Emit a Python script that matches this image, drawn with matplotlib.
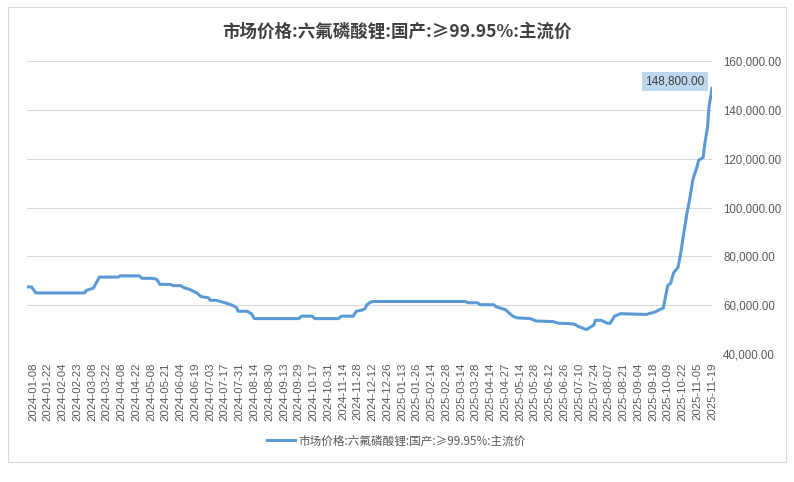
import matplotlib
matplotlib.use('Agg')
import matplotlib.pyplot as plt
from matplotlib.patches import Rectangle
from matplotlib.ticker import FuncFormatter

plt.rcParams['font.family'] = ['Noto Sans CJK SC', 'DejaVu Sans']

title = '市场价格:六氟磷酸锂:国产:≥99.95%:主流价'

# trading-day index and price (yuan/ton)
day_idx = [0, 3, 6, 39, 40, 45, 49, 62, 63, 76, 78, 85, 88, 90, 97, 99, 104, 107, 110,
           115, 118, 123, 124, 128, 131, 134, 139, 142, 143, 149, 152, 154, 184, 186,
           193, 195, 211, 213, 221, 223, 227, 229, 230, 232, 234, 297, 299, 305, 307,
           316, 318, 324, 329, 332, 341, 345, 356, 360, 366, 371, 373, 379, 384, 385,
           389, 393, 395, 398, 402, 420, 421, 425, 429, 431, 434, 436, 438, 441, 443,
           445, 447, 449, 451, 454, 455, 458, 459, 461, 462, 464]
price = [67500, 67500, 65000, 65000, 66000, 67000, 71500, 71500, 72000, 72000, 71000,
         71000, 70500, 68500, 68500, 68000, 68000, 67000, 66500, 65000, 63500, 63000,
         62000, 62000, 61500, 61000, 60000, 59000, 57500, 57500, 56500, 54500, 54500,
         55500, 55500, 54500, 54500, 55500, 55500, 57500, 58000, 58500, 60000, 61000,
         61500, 61500, 61000, 61000, 60200, 60200, 59300, 58200, 55500, 54800, 54500,
         53500, 53300, 52600, 52500, 52200, 51400, 50000, 51900, 53800, 53800, 52600,
         52600, 55500, 56500, 56200, 56500, 57100, 58300, 58800, 68000, 69000, 73300,
         75500, 82000, 90000, 97500, 103800, 111300, 117000, 119400, 120500, 125600,
         133000, 141300, 148800]

tick_labels = ['2024-01-08', '2024-01-22', '2024-02-04', '2024-02-23', '2024-03-08',
               '2024-03-22', '2024-04-08', '2024-04-22', '2024-05-08', '2024-05-21',
               '2024-06-04', '2024-06-19', '2024-07-03', '2024-07-17', '2024-07-31',
               '2024-08-14', '2024-08-30', '2024-09-13', '2024-09-29', '2024-10-17',
               '2024-10-31', '2024-11-14', '2024-11-28', '2024-12-12', '2024-12-26',
               '2025-01-13', '2025-01-26', '2025-02-14', '2025-02-28', '2025-03-14',
               '2025-03-28', '2025-04-14', '2025-04-27', '2025-05-14', '2025-05-28',
               '2025-06-12', '2025-06-26', '2025-07-10', '2025-07-24', '2025-08-07',
               '2025-08-21', '2025-09-04', '2025-09-18', '2025-10-09', '2025-10-22',
               '2025-11-05', '2025-11-19']
tick_pos = [4 + 10 * i for i in range(len(tick_labels))]

fig = plt.figure(figsize=(7.94, 4.82), dpi=100)
fig.patches.append(Rectangle((8 / 794, 1 - 462 / 482), 778 / 794, 455 / 482,
                             transform=fig.transFigure, fill=False,
                             edgecolor='#d9d9d9', lw=0.8))

ax = fig.add_axes([27 / 794, 1 - 354 / 482, 685 / 794, 293 / 482])
line, = ax.plot(day_idx, price, color='#5b9bd5', lw=2.2, solid_joinstyle='round',
                label=title)

ax.set_xlim(0, 464)
ax.set_ylim(40000, 160000)
ax.set_yticks(range(40000, 160001, 20000))
ax.yaxis.tick_right()
ax.yaxis.set_major_formatter(FuncFormatter(lambda v, p: '{:,.2f}'.format(v)))
ax.set_xticks(tick_pos)
ax.set_xticklabels(tick_labels, rotation=90, fontsize=8.2, color='#595959',
                   family=['Liberation Sans', 'DejaVu Sans'])
for lab in ax.get_yticklabels():
    lab.set_fontsize(8.3)
    lab.set_color('#595959')
    lab.set_family(['Liberation Sans', 'DejaVu Sans'])
ax.tick_params(axis='both', length=0)
ax.tick_params(axis='y', pad=8)
ax.tick_params(axis='x', pad=6)
ax.grid(axis='y', color='#d9d9d9', lw=0.8)
for s in ax.spines.values():
    s.set_visible(False)

ax.annotate('148,800.00', xy=(day_idx[-1], price[-1]), xytext=(-37, 7),
            textcoords='offset pixels', ha='center', va='center', fontsize=8.5,
            color='#404040', family=['Liberation Sans', 'DejaVu Sans'],
            bbox=dict(boxstyle='square,pad=0.3', fc='#bdd7ee', ec='none'))

fig.text(0.5, 1 - 32 / 482, title, ha='center', va='center', fontsize=12.6,
         fontweight='bold', color='#404040')

fig.legend(handles=[line], loc='center', bbox_to_anchor=(396 / 794, 1 - 441 / 482),
           frameon=False, fontsize=8.4, labelcolor='#595959', handlelength=2.4,
           handletextpad=0.3)

fig.savefig('out.png', dpi=100)
